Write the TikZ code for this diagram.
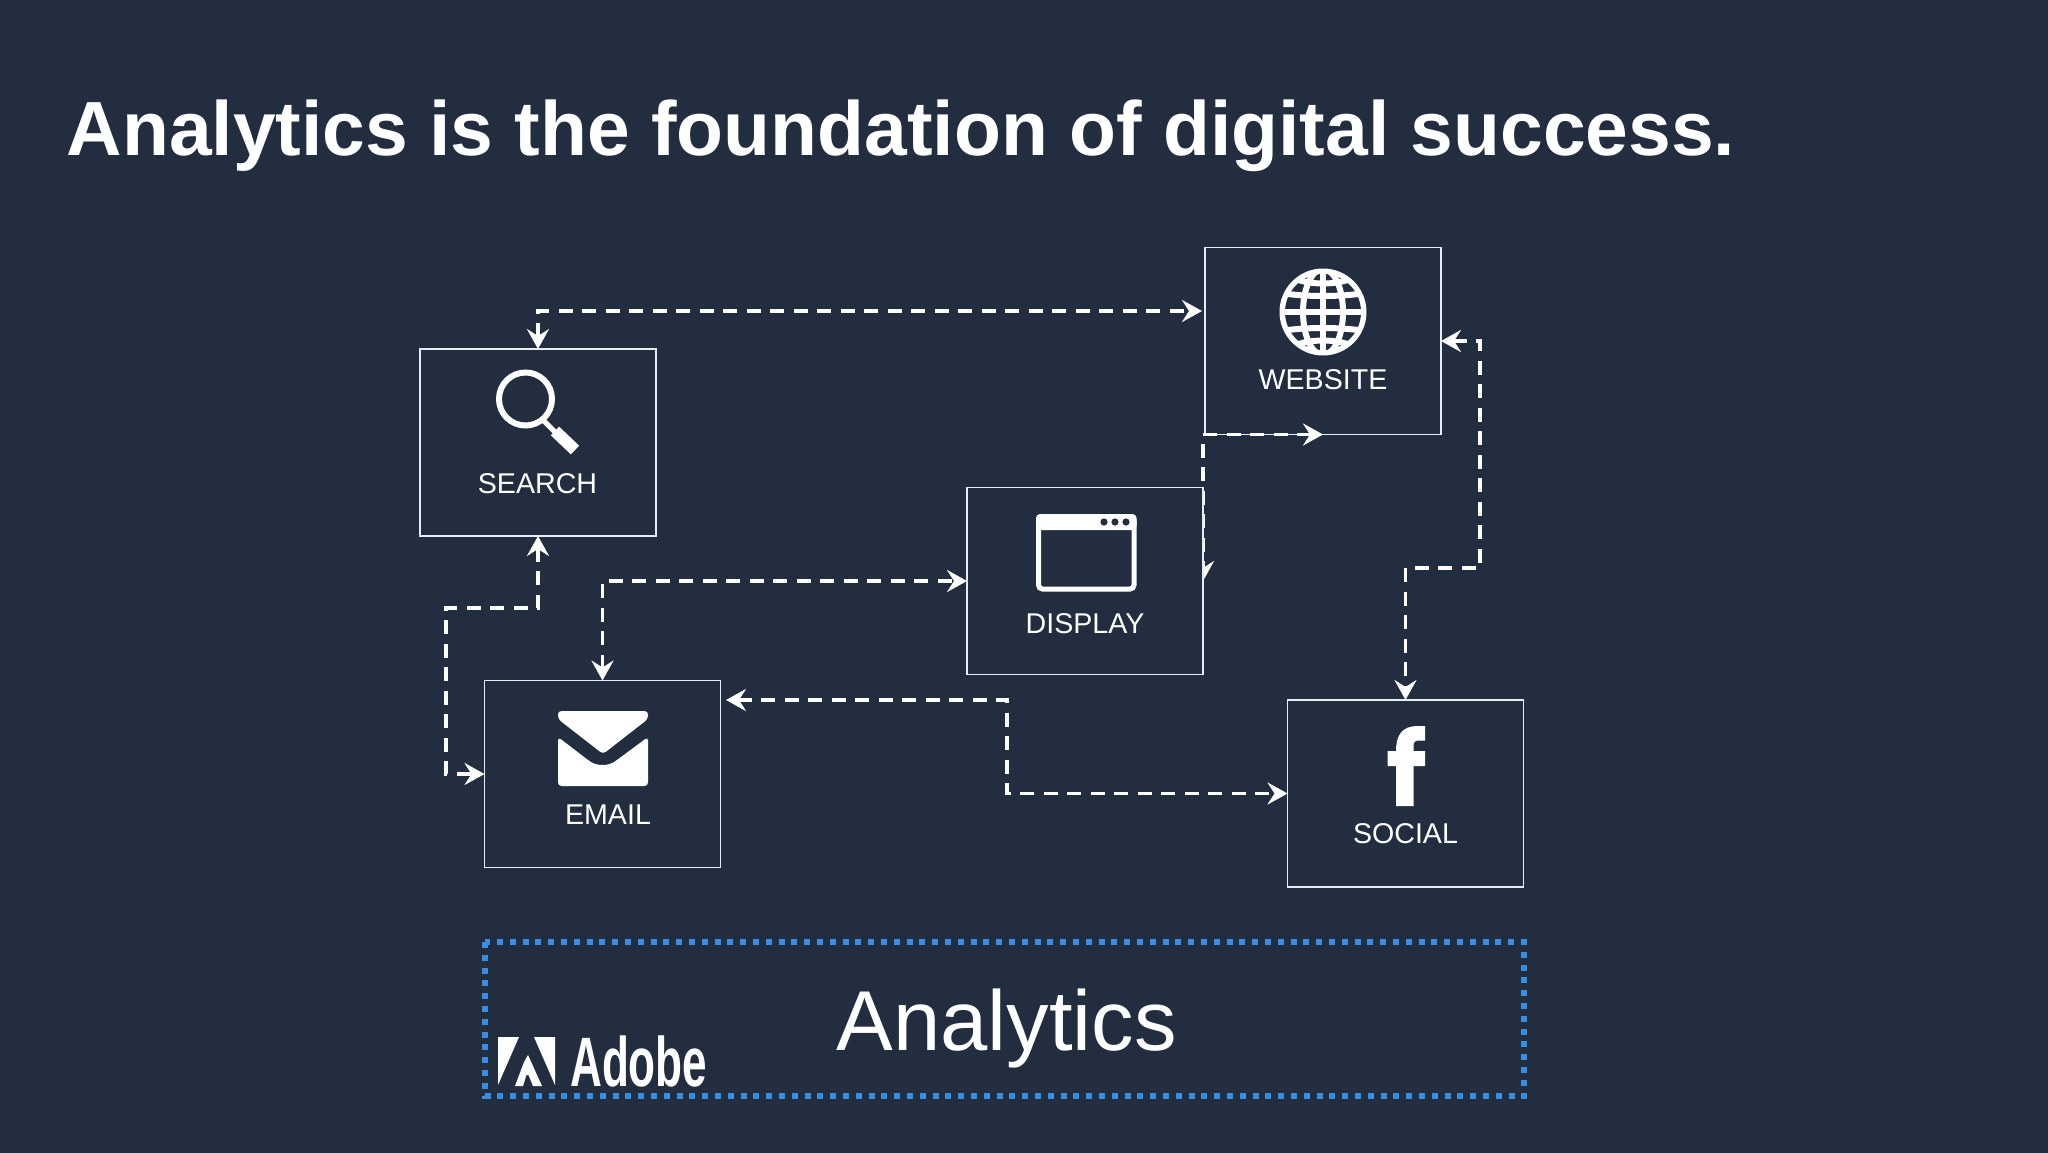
\documentclass[tikz,border=0pt]{standalone}
\usepackage{fontspec}
\setmainfont{Liberation Sans}
\usetikzlibrary{arrows.meta}
\definecolor{bgnavy}{HTML}{222E3F}
\definecolor{edgewhite}{HTML}{E4ECF4}
\definecolor{dotblue}{HTML}{388EE4}
\newcommand{\fsz}[1]{\fontsize{#1}{#1}\selectfont}
\tikzset{
  x=1pt,y=-1pt,
  chanbox/.style={draw=edgewhite,line width=1.7pt,minimum width=236pt,minimum height=187pt,inner sep=0pt,outer sep=0pt},
  link/.style={draw=white,line width=3.7pt,dash pattern=on 14pt off 9.5pt,
    {Stealth[length=20pt,width=22pt,inset=7pt]}-{Stealth[length=20pt,width=22pt,inset=7pt]}},
  chanlabel/.style={text=white,anchor=base,inner sep=0pt,font=\fsz{28.6}},
  icon/.style={fill=white,draw=none},
}
\begin{document}
\begin{tikzpicture}
\useasboundingbox (0,0) rectangle (2048,1152);
\fill[bgnavy] (-3,-3) rectangle (2051,1155);

\node[anchor=base west,inner sep=0pt,text=white,font=\fsz{76.8}\bfseries] (title) at (66.5,155) {Analytics is the foundation of digital success.};

% boxes drawn under the connectors
\node[chanbox] (search) at (538,442.5) {};
\node[chanbox] (website) at (1323,341) {};
\node[chanbox] (email) at (602.5,774) {};
\node[chanbox] (social) at (1405.5,793.5) {};
\coordinate (display) at (1085,581);
\path (display) +(-118,0) coordinate (displayW) +(118,0) coordinate (displayE);

% free ends and bends
\coordinate (websiteW) at (1202,311);
\coordinate (bendA) at (446,608);
\coordinate (emailE) at (726,700);
\coordinate (bendB) at (1007,747);
\coordinate (bendC) at (1480,568);

% connectors
\draw[link] (search.north) |- (websiteW);
\draw[link] (search.south) |- (bendA) |- (email.west);
\draw[link] (email.north) |- (displayW);
\draw[link] (emailE) -| (bendB) |- (social.west);
\draw[link] (website.east) -| (bendC) -| (social.north);
\draw[link] (website.south) -| (displayE);

% display box on top, hiding half of the arrow tip
\node[chanbox,fill=bgnavy] (displaybox) at (display) {};

% labels
\node[chanlabel] (searchlabel) at (537.5,493) {SEARCH};
\node[chanlabel] (websitelabel) at (1323,389) {WEBSITE};
\node[chanlabel] (displaylabel) at (1085,633) {DISPLAY};
\node[chanlabel] (emaillabel) at (608,824) {EMAIL};
\node[chanlabel] (sociallabel) at (1405.5,843.5) {SOCIAL};

% search icon
\draw[white,line width=6pt] (525.5,399) circle[radius=26.5];
\draw[white,line width=5pt] (543,420) -- (556,433);
\draw[white,line width=12pt] (555,431) -- (575,450);

% globe icon
\begin{scope}
  \fill[white] (1323,312) circle[radius=43.5];
  \fill[bgnavy] (1323,312) circle[radius=38];
  \clip (1323,312) circle[radius=40];
  \draw[white,line width=6pt] (1323,268) -- (1323,356);
  \draw[white,line width=6pt] (1323,312) ellipse[x radius=20,y radius=43];
  \draw[white,line width=6pt] (1279,312) -- (1367,312);
  \draw[white,line width=6pt] (1281,293) .. controls (1305,297) and (1341,297) .. (1365,293);
  \draw[white,line width=6pt] (1281,331) .. controls (1305,327) and (1341,327) .. (1365,331);
  \draw[white,line width=6pt] (1290,276) .. controls (1305,286) and (1341,286) .. (1356,276);
  \draw[white,line width=6pt] (1290,348) .. controls (1305,338) and (1341,338) .. (1356,348);
\end{scope}

% display icon
\draw[white,line width=5pt,rounded corners=4pt] (1038.5,516.5) rectangle (1134,589);
\fill[white,rounded corners=4pt] (1036,514) rectangle (1136.5,530);
\fill[bgnavy] (1104,522) circle[radius=3.6] (1115,522) circle[radius=3.6] (1126,522) circle[radius=3.6];

% email icon
\fill[icon,rounded corners=3.5pt] (558,711) -- (648,711) -- (648,719) -- (603,754) -- (558,719) -- cycle;
\fill[icon,rounded corners=3.5pt] (558,737) -- (588,760) .. controls (597,766) and (608,766) .. (617,760) -- (648,737) -- (648,786) -- (558,786) -- cycle;

% facebook icon
\fill[icon] (1396,806) -- (1396,751) -- (1387.5,751) -- (1387.5,766) -- (1396,766) -- (1396,751)
  .. controls (1396,735) and (1402,726) .. (1418,726) -- (1425,726) -- (1425,740.5) -- (1419,740.5)
  .. controls (1415,740.5) and (1413.5,742) .. (1413.5,746) -- (1413.5,751) -- (1425,751) -- (1425,766) -- (1413.5,766) -- (1413.5,806) -- cycle;

% analytics band
\draw[dotblue,line width=6pt,dash pattern=on 6pt off 6.8pt] (485,942) rectangle (1524,1096);
\node[text=white,anchor=base,inner sep=0pt,font=\fsz{85}] (analytics) at (1006.5,1050) {Analytics};

% adobe logo
\fill[white] (498,1037) -- (519,1037) -- (498,1085) -- cycle;
\fill[white] (534,1037) -- (555,1037) -- (555,1085) -- cycle;
\fill[white] (528,1055) -- (542,1086) -- (533,1086) -- (528.5,1075) -- (521,1075) -- (527,1069) -- (524,1062) -- cycle;
\fill[white] (524,1062) -- (515,1086) -- (523,1086) -- (528,1070) -- cycle;
\node[text=white,anchor=base west,inner sep=0pt,font=\fsz{70}\bfseries] (adobe) at (570,1086) {\scalebox{0.63}[1]{Adobe}};
\end{tikzpicture}
\end{document}
